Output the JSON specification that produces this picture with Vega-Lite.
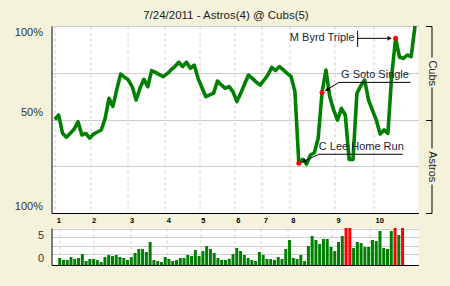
{
  "$schema": "https://vega.github.io/schema/vega-lite/v6.json",
  "background": "#F4F2DA",
  "padding": {"left": 13.5, "top": 10, "right": 14, "bottom": 24},
  "autosize": {"type": "pad"},
  "title": {"text": "7/24/2011 - Astros(4) @ Cubs(5)", "anchor": "middle", "frame": "bounds", "fontSize": 11.5, "fontWeight": "normal", "color": "#222222", "font": "Liberation Sans", "offset": 2.5},
  "datasets": {
    "wp": [
      {"play": 0, "wp": 0.50}, {"play": 1, "wp": 0.524}, {"play": 2, "wp": 0.426}, {"play": 3, "wp": 0.405},
      {"play": 4, "wp": 0.426}, {"play": 5, "wp": 0.449}, {"play": 6, "wp": 0.488}, {"play": 7, "wp": 0.417},
      {"play": 8, "wp": 0.426}, {"play": 9, "wp": 0.40}, {"play": 10, "wp": 0.422}, {"play": 11, "wp": 0.433},
      {"play": 12, "wp": 0.444}, {"play": 13, "wp": 0.506}, {"play": 14, "wp": 0.613}, {"play": 15, "wp": 0.57},
      {"play": 16, "wp": 0.66}, {"play": 17, "wp": 0.743}, {"play": 18, "wp": 0.727}, {"play": 19, "wp": 0.711},
      {"play": 20, "wp": 0.675}, {"play": 21, "wp": 0.604}, {"play": 22, "wp": 0.667}, {"play": 23, "wp": 0.715},
      {"play": 24, "wp": 0.675}, {"play": 25, "wp": 0.761}, {"play": 26, "wp": 0.752}, {"play": 27, "wp": 0.740},
      {"play": 28, "wp": 0.729}, {"play": 29, "wp": 0.745}, {"play": 30, "wp": 0.765}, {"play": 31, "wp": 0.783},
      {"play": 32, "wp": 0.806}, {"play": 33, "wp": 0.783}, {"play": 34, "wp": 0.806}, {"play": 35, "wp": 0.774},
      {"play": 36, "wp": 0.791}, {"play": 37, "wp": 0.72}, {"play": 38, "wp": 0.67}, {"play": 39, "wp": 0.622},
      {"play": 40, "wp": 0.632}, {"play": 41, "wp": 0.641}, {"play": 42, "wp": 0.706}, {"play": 43, "wp": 0.685},
      {"play": 44, "wp": 0.667}, {"play": 45, "wp": 0.676}, {"play": 46, "wp": 0.649}, {"play": 47, "wp": 0.596},
      {"play": 48, "wp": 0.64}, {"play": 49, "wp": 0.69}, {"play": 50, "wp": 0.738}, {"play": 51, "wp": 0.72},
      {"play": 52, "wp": 0.70}, {"play": 53, "wp": 0.684}, {"play": 54, "wp": 0.71}, {"play": 55, "wp": 0.738},
      {"play": 56, "wp": 0.779}, {"play": 57, "wp": 0.762}, {"play": 58, "wp": 0.783}, {"play": 59, "wp": 0.765},
      {"play": 60, "wp": 0.747}, {"play": 61, "wp": 0.73}, {"play": 62, "wp": 0.649}, {"play": 63, "wp": 0.266},
      {"play": 64, "wp": 0.287}, {"play": 65, "wp": 0.262}, {"play": 66, "wp": 0.31}, {"play": 67, "wp": 0.322},
      {"play": 68, "wp": 0.40}, {"play": 69, "wp": 0.645}, {"play": 70, "wp": 0.765}, {"play": 71, "wp": 0.622},
      {"play": 72, "wp": 0.55}, {"play": 73, "wp": 0.497}, {"play": 74, "wp": 0.56}, {"play": 75, "wp": 0.524},
      {"play": 76, "wp": 0.287}, {"play": 77, "wp": 0.287}, {"play": 78, "wp": 0.64}, {"play": 79, "wp": 0.68},
      {"play": 80, "wp": 0.711}, {"play": 81, "wp": 0.604}, {"play": 82, "wp": 0.55}, {"play": 83, "wp": 0.497},
      {"play": 84, "wp": 0.422}, {"play": 85, "wp": 0.444}, {"play": 86, "wp": 0.426}, {"play": 87, "wp": 0.74},
      {"play": 88, "wp": 0.934}, {"play": 89, "wp": 0.833}, {"play": 90, "wp": 0.827}, {"play": 91, "wp": 0.845},
      {"play": 92, "wp": 0.836}, {"play": 93, "wp": 1.0}
    ],
    "notes": [
      {"play": 63, "wp": 0.266, "label": "C Lee Home Run"},
      {"play": 69, "wp": 0.645, "label": "G Soto Single"},
      {"play": 88, "wp": 0.934, "label": "M Byrd Triple"}
    ],
    "bars": [
      {"play": 0, "lev": 0.76, "clipped": "no"}, {"play": 1, "lev": 0.54, "clipped": "no"}, {"play": 2, "lev": 0.54, "clipped": "no"},
      {"play": 3, "lev": 0.86, "clipped": "no"}, {"play": 4, "lev": 0.65, "clipped": "no"}, {"play": 5, "lev": 0.76, "clipped": "no"},
      {"play": 6, "lev": 1.19, "clipped": "no"}, {"play": 7, "lev": 0.43, "clipped": "no"}, {"play": 8, "lev": 0.65, "clipped": "no"},
      {"play": 9, "lev": 0.65, "clipped": "no"}, {"play": 10, "lev": 0.54, "clipped": "no"}, {"play": 11, "lev": 0.32, "clipped": "no"},
      {"play": 12, "lev": 0.86, "clipped": "no"}, {"play": 13, "lev": 1.08, "clipped": "no"}, {"play": 14, "lev": 0.97, "clipped": "no"},
      {"play": 15, "lev": 1.08, "clipped": "no"}, {"play": 16, "lev": 0.86, "clipped": "no"}, {"play": 17, "lev": 0.76, "clipped": "no"},
      {"play": 18, "lev": 0.54, "clipped": "no"}, {"play": 19, "lev": 0.86, "clipped": "no"}, {"play": 20, "lev": 1.30, "clipped": "no"},
      {"play": 21, "lev": 1.73, "clipped": "no"}, {"play": 22, "lev": 1.73, "clipped": "no"}, {"play": 23, "lev": 1.41, "clipped": "no"},
      {"play": 24, "lev": 2.49, "clipped": "no"}, {"play": 25, "lev": 0.54, "clipped": "no"}, {"play": 26, "lev": 0.43, "clipped": "no"},
      {"play": 27, "lev": 0.32, "clipped": "no"}, {"play": 28, "lev": 0.86, "clipped": "no"}, {"play": 29, "lev": 0.65, "clipped": "no"},
      {"play": 30, "lev": 0.43, "clipped": "no"}, {"play": 31, "lev": 0.54, "clipped": "no"}, {"play": 32, "lev": 0.76, "clipped": "no"},
      {"play": 33, "lev": 0.76, "clipped": "no"}, {"play": 34, "lev": 1.08, "clipped": "no"}, {"play": 35, "lev": 0.97, "clipped": "no"},
      {"play": 36, "lev": 1.62, "clipped": "no"}, {"play": 37, "lev": 0.97, "clipped": "no"}, {"play": 38, "lev": 1.51, "clipped": "no"},
      {"play": 39, "lev": 2.05, "clipped": "no"}, {"play": 40, "lev": 1.73, "clipped": "no"}, {"play": 41, "lev": 1.30, "clipped": "no"},
      {"play": 42, "lev": 0.76, "clipped": "no"}, {"play": 43, "lev": 0.54, "clipped": "no"}, {"play": 44, "lev": 0.54, "clipped": "no"},
      {"play": 45, "lev": 0.68, "clipped": "no"}, {"play": 46, "lev": 1.19, "clipped": "no"}, {"play": 47, "lev": 1.84, "clipped": "no"},
      {"play": 48, "lev": 1.51, "clipped": "no"}, {"play": 49, "lev": 1.08, "clipped": "no"}, {"play": 50, "lev": 0.76, "clipped": "no"},
      {"play": 51, "lev": 0.54, "clipped": "no"}, {"play": 52, "lev": 0.43, "clipped": "no"}, {"play": 53, "lev": 1.41, "clipped": "no"},
      {"play": 54, "lev": 1.08, "clipped": "no"}, {"play": 55, "lev": 0.65, "clipped": "no"}, {"play": 56, "lev": 0.65, "clipped": "no"},
      {"play": 57, "lev": 0.54, "clipped": "no"}, {"play": 58, "lev": 0.86, "clipped": "no"}, {"play": 59, "lev": 0.65, "clipped": "no"},
      {"play": 60, "lev": 1.73, "clipped": "no"}, {"play": 61, "lev": 2.70, "clipped": "no"}, {"play": 62, "lev": 0.76, "clipped": "no"},
      {"play": 63, "lev": 0.65, "clipped": "no"}, {"play": 64, "lev": 1.08, "clipped": "no"}, {"play": 65, "lev": 0.43, "clipped": "no"},
      {"play": 66, "lev": 2.05, "clipped": "no"}, {"play": 67, "lev": 3.14, "clipped": "no"}, {"play": 68, "lev": 2.70, "clipped": "no"},
      {"play": 69, "lev": 2.27, "clipped": "no"}, {"play": 70, "lev": 2.81, "clipped": "no"}, {"play": 71, "lev": 2.81, "clipped": "no"},
      {"play": 72, "lev": 1.95, "clipped": "no"}, {"play": 73, "lev": 1.51, "clipped": "no"}, {"play": 74, "lev": 2.49, "clipped": "no"},
      {"play": 75, "lev": 3.14, "clipped": "no"}, {"play": 76, "lev": 4, "clipped": "yes"}, {"play": 77, "lev": 4, "clipped": "yes"},
      {"play": 78, "lev": 1.84, "clipped": "no"}, {"play": 79, "lev": 2.49, "clipped": "no"}, {"play": 80, "lev": 2.38, "clipped": "no"},
      {"play": 81, "lev": 1.95, "clipped": "no"}, {"play": 82, "lev": 1.95, "clipped": "no"}, {"play": 83, "lev": 2.70, "clipped": "no"},
      {"play": 84, "lev": 2.59, "clipped": "no"}, {"play": 85, "lev": 3.68, "clipped": "no"}, {"play": 86, "lev": 1.84, "clipped": "no"},
      {"play": 87, "lev": 1.73, "clipped": "no"}, {"play": 88, "lev": 3.68, "clipped": "no"}, {"play": 89, "lev": 4, "clipped": "yes"},
      {"play": 90, "lev": 3.24, "clipped": "no"}, {"play": 91, "lev": 4, "clipped": "yes"}
    ]
  },
  "spacing": 15,
  "bounds": "flush",
  "vconcat": [
    {
      "width": 367,
      "height": 187,
      "encoding": {
        "x": {
          "field": "play", "type": "quantitative",
          "scale": {"domain": [-0.85, 93.9], "nice": false, "zero": false},
          "axis": {
            "values": [0, 9.1, 18.9, 28.4, 37.3, 46.3, 53.4, 60.5, 72.2, 82.3],
            "labelExpr": "indexof([0, 9.1, 18.9, 28.4, 37.3, 46.3, 53.4, 60.5, 72.2, 82.3], datum.value) + 1",
            "grid": true, "gridDash": [3, 3], "gridColor": "#cccccc",
            "ticks": false, "domain": true, "domainColor": "#000000",
            "labelFontSize": 7.5, "labelFontWeight": "bold", "labelColor": "#000000",
            "labelAlign": "left", "labelOffset": 1.5, "labelPadding": 3, "labelBaseline": "top",
            "labelFlush": false, "labelOverlap": false, "title": null
          }
        }
      },
      "layer": [
        {
          "data": {"name": "wp"},
          "mark": {"type": "line", "color": "#008000", "strokeWidth": 3.6, "strokeJoin": "round"},
          "encoding": {
            "y": {
              "field": "wp", "type": "quantitative",
              "scale": {"domain": [0, 1], "nice": false},
              "axis": {
                "orient": "left",
                "values": [0, 0.25, 0.5, 0.75, 1],
                "labelExpr": "datum.value == 0.5 ? '50%' : (datum.value == 0 || datum.value == 1) ? '100%' : ''",
                "labelOffset": {"condition": {"test": "datum.value == 1", "value": 6}, "value": -7},
                "grid": true, "gridColor": "#cccccc", "ticks": false,
                "domain": true, "domainColor": "#000000",
                "labelFontSize": 11, "labelColor": "#333333", "labelPadding": 9,
                "labelOverlap": false, "labelFlush": false, "title": null
              }
            }
          }
        },
        {
          "data": {"name": "notes"},
          "mark": {"type": "circle", "color": "#ff0000", "opacity": 1, "size": 25},
          "encoding": {
            "y": {
              "field": "wp", "type": "quantitative",
              "scale": {"domain": [0, 1], "nice": false},
              "axis": {
                "orient": "right", "offset": 13,
                "values": [0, 0.25, 0.5, 0.75, 1],
                "grid": false,
                "domain": true, "domainColor": "#000000", "domainWidth": 1, "domainDash": [29, 36, 61, 30, 40],
                "ticks": true, "tickColor": "#000000", "tickSize": -6,
                "tickOpacity": {"condition": {"test": "datum.value == 0.25 || datum.value == 0.75", "value": 0}, "value": 1},
                "labelExpr": "datum.value == 0.75 ? 'Cubs' : datum.value == 0.25 ? 'Astros' : ''",
                "labelAngle": 90, "labelAlign": "center", "labelBaseline": "middle", "labelPadding": 6,
                "labelFontSize": 11, "labelColor": "#222222", "labelOverlap": false, "labelFlush": false,
                "title": null
              }
            }
          }
        },
        {
          "data": {"name": "notes"},
          "transform": [{"filter": "datum.label == 'C Lee Home Run'"}],
          "layer": [
            {"mark": {"type": "text", "align": "left", "baseline": "middle", "dx": 20, "dy": -16, "fontSize": 11, "color": "#1c1c3c", "font": "Liberation Sans"},
             "encoding": {"y": {"field": "wp", "type": "quantitative", "axis": null}, "text": {"field": "label"}}},
            {"mark": {"type": "rule", "color": "#000000", "strokeWidth": 1, "xOffset": 20, "x2Offset": 104, "yOffset": -9, "y2Offset": -9},
             "encoding": {"x2": {"field": "play"}, "y": {"field": "wp", "type": "quantitative", "axis": null}, "y2": {"field": "wp"}}},
            {"mark": {"type": "rule", "color": "#000000", "strokeWidth": 1, "xOffset": 20, "x2Offset": 3, "yOffset": -9, "y2Offset": -1},
             "encoding": {"x2": {"field": "play"}, "y": {"field": "wp", "type": "quantitative", "axis": null}, "y2": {"field": "wp"}}},
            {"mark": {"type": "point", "shape": "triangle-up", "angle": 247.5, "filled": true, "color": "#000000", "opacity": 1, "size": 22, "xOffset": 5, "yOffset": -2},
             "encoding": {"y": {"field": "wp", "type": "quantitative", "axis": null}}}
          ]
        },
        {
          "data": {"name": "notes"},
          "transform": [{"filter": "datum.label == 'G Soto Single'"}],
          "layer": [
            {"mark": {"type": "text", "align": "left", "baseline": "middle", "dx": 19, "dy": -17, "fontSize": 11, "color": "#1c1c3c", "font": "Liberation Sans"},
             "encoding": {"y": {"field": "wp", "type": "quantitative", "axis": null}, "text": {"field": "label"}}},
            {"mark": {"type": "rule", "color": "#000000", "strokeWidth": 1, "xOffset": 17, "x2Offset": 88.5, "yOffset": -10, "y2Offset": -10},
             "encoding": {"x2": {"field": "play"}, "y": {"field": "wp", "type": "quantitative", "axis": null}, "y2": {"field": "wp"}}},
            {"mark": {"type": "rule", "color": "#000000", "strokeWidth": 1, "xOffset": 17, "x2Offset": 3, "yOffset": -10, "y2Offset": -1.5},
             "encoding": {"x2": {"field": "play"}, "y": {"field": "wp", "type": "quantitative", "axis": null}, "y2": {"field": "wp"}}},
            {"mark": {"type": "point", "shape": "triangle-up", "angle": 241.5, "filled": true, "color": "#000000", "opacity": 1, "size": 22, "xOffset": 5, "yOffset": -2.7},
             "encoding": {"y": {"field": "wp", "type": "quantitative", "axis": null}}}
          ]
        },
        {
          "data": {"name": "notes"},
          "transform": [{"filter": "datum.label == 'M Byrd Triple'"}],
          "layer": [
            {"mark": {"type": "text", "align": "right", "baseline": "middle", "dx": -41, "dy": 0, "fontSize": 11, "color": "#1c1c3c", "font": "Liberation Sans"},
             "encoding": {"y": {"field": "wp", "type": "quantitative", "axis": null}, "text": {"field": "label"}}},
            {"mark": {"type": "rule", "color": "#000000", "strokeWidth": 1, "xOffset": -38, "x2Offset": -38, "yOffset": -7.5, "y2Offset": 8.5},
             "encoding": {"x2": {"field": "play"}, "y": {"field": "wp", "type": "quantitative", "axis": null}, "y2": {"field": "wp"}}},
            {"mark": {"type": "rule", "color": "#000000", "strokeWidth": 1, "xOffset": -38, "x2Offset": -5, "yOffset": 0, "y2Offset": 0},
             "encoding": {"x2": {"field": "play"}, "y": {"field": "wp", "type": "quantitative", "axis": null}, "y2": {"field": "wp"}}},
            {"mark": {"type": "point", "shape": "triangle-right", "filled": true, "color": "#000000", "opacity": 1, "size": 22, "xOffset": -6, "yOffset": 0},
             "encoding": {"y": {"field": "wp", "type": "quantitative", "axis": null}}}
          ]
        }
      ],
      "resolve": {"axis": {"y": "independent"}}
    },
    {
      "width": 367,
      "height": 37,
      "data": {"name": "bars"},
      "mark": {"type": "bar", "width": 3},
      "encoding": {
        "x": {
          "field": "play", "type": "quantitative",
          "scale": {"domain": [-0.85, 93.9], "nice": false, "zero": false},
          "axis": {
            "values": [0, 9.1, 18.9, 28.4, 37.3, 46.3, 53.4, 60.5, 72.2, 82.3],
            "labels": false, "ticks": false,
            "grid": true, "gridDash": [3, 3], "gridColor": "#cccccc",
            "domain": true, "domainColor": "#000000", "title": null
          }
        },
        "y": {
          "field": "lev", "type": "quantitative",
          "scale": {"domain": [0, 4], "nice": false},
          "axis": {
            "values": [1.15, 2.08, 3, 3.93],
            "labelExpr": "datum.value == 3 ? '5' : datum.value == 1.15 ? '0' : ''",
            "labelOffset": {"condition": {"test": "datum.value == 3", "value": -1.5}, "value": 4},
            "grid": true, "gridColor": "#cccccc", "ticks": false,
            "domain": true, "domainColor": "#000000",
            "labelFontSize": 11, "labelColor": "#333333", "labelPadding": 8,
            "labelOverlap": false, "title": null
          }
        },
        "color": {
          "field": "clipped", "type": "nominal",
          "scale": {"domain": ["no", "yes"], "range": ["#008000", "#ff0000"]},
          "legend": null
        }
      }
    }
  ],
  "config": {
    "view": {"stroke": null, "fill": "#ffffff"},
    "font": "Liberation Sans"
  }
}
